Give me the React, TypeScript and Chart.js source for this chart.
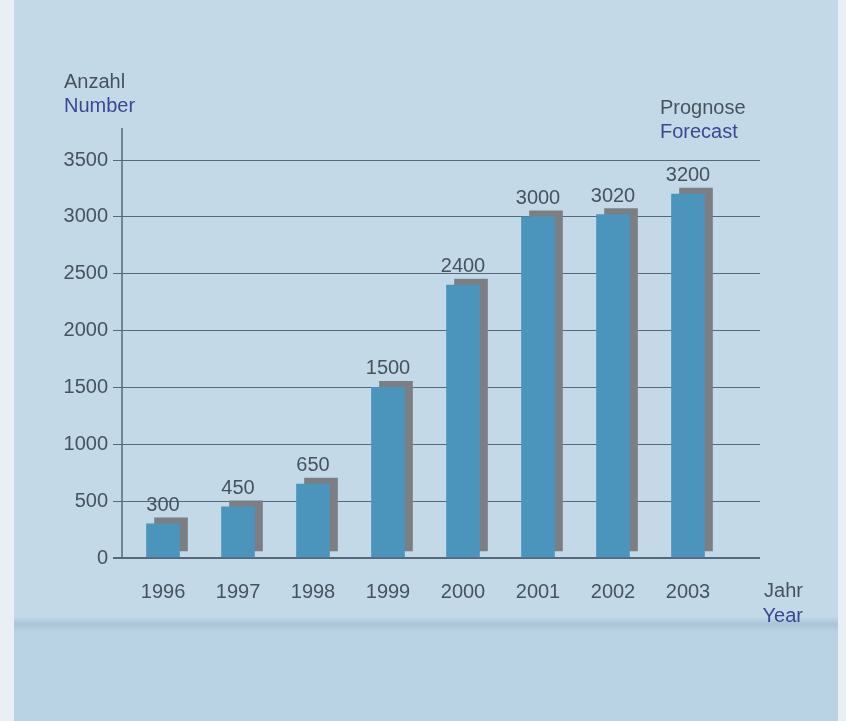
import React, { useEffect, useRef } from "react";
import { Chart, registerables } from "chart.js";

Chart.register(...registerables);

const years = ["1996", "1997", "1998", "1999", "2000", "2001", "2002", "2003"];
const values = [300, 450, 650, 1500, 2400, 3000, 3020, 3200];
const yMin = 0;
const yMax = 3500;
const yStep = 500;

const FONT = "'Liberation Sans', Arial, Helvetica, sans-serif";
const GRAY_TEXT = "#46535e";
const INDIGO = "#3a4893";
const BAR_BLUE = "#4b95bd";
const SHADOW = "#7b7f84";
const GRID = "#56697a";

const decorPlugin = {
  id: "decor",
  beforeDraw(chart: any) {
    const { ctx, width, height } = chart;
    ctx.save();
    ctx.fillStyle = "#c3d9e7";
    ctx.fillRect(0, 0, width, height);
    ctx.fillStyle = "#bad3e4";
    ctx.fillRect(0, 623, width, height - 623);
    const g = ctx.createLinearGradient(0, 616, 0, 632);
    g.addColorStop(0, "rgba(170,198,218,0)");
    g.addColorStop(0.5, "rgba(165,195,216,0.9)");
    g.addColorStop(1, "rgba(170,198,218,0)");
    ctx.fillStyle = g;
    ctx.fillRect(0, 616, width, 16);
    ctx.fillStyle = "#e9f0f5";
    ctx.fillRect(0, 0, 14, height);
    ctx.fillRect(838, 0, width - 838, height);
    ctx.restore();
  },
  beforeDatasetDraw(chart: any, args: any) {
    if (args.index === 0) {
      chart.ctx.save();
      chart.ctx.translate(8, -6);
    }
  },
  afterDatasetDraw(chart: any, args: any) {
    if (args.index === 0) chart.ctx.restore();
  },
  afterDatasetsDraw(chart: any) {
    const { ctx, chartArea } = chart;
    ctx.save();
    ctx.strokeStyle = GRID;
    ctx.lineWidth = 1.5;
    ctx.beginPath();
    ctx.moveTo(chartArea.left, 128);
    ctx.lineTo(chartArea.left, chartArea.bottom);
    ctx.stroke();
    const meta = chart.getDatasetMeta(1);
    ctx.font = `20px ${FONT}`;
    ctx.fillStyle = GRAY_TEXT;
    ctx.textAlign = "center";
    ctx.textBaseline = "alphabetic";
    meta.data.forEach((el: any, i: number) => {
      ctx.fillText(String(values[i]), el.x, el.y - 13);
    });
    ctx.textAlign = "left";
    ctx.fillStyle = GRAY_TEXT;
    ctx.fillText("Anzahl", 64, 88);
    ctx.fillStyle = INDIGO;
    ctx.fillText("Number", 64, 112);
    ctx.fillStyle = GRAY_TEXT;
    ctx.fillText("Prognose", 660, 114);
    ctx.fillStyle = INDIGO;
    ctx.fillText("Forecast", 660, 138);
    ctx.textAlign = "right";
    ctx.fillStyle = GRAY_TEXT;
    ctx.fillText("Jahr", 803, 597);
    ctx.fillStyle = INDIGO;
    ctx.fillText("Year", 803, 622);
    ctx.restore();
  },
};

export default function App() {
  const ref = useRef<HTMLCanvasElement | null>(null);
  useEffect(() => {
    if (!ref.current) return;
    const pts = values.map((v, i) => ({ x: i, y: v }));
    const chart = new Chart(ref.current, {
      type: "bar",
      data: {
        datasets: [
          {
            data: pts,
            backgroundColor: SHADOW,
            barThickness: 33,
            grouped: false,
            order: 2,
          } as any,
          {
            data: pts,
            backgroundColor: BAR_BLUE,
            barThickness: 33,
            grouped: false,
            order: 1,
          } as any,
        ],
      },
      options: {
        animation: false,
        responsive: false,
        devicePixelRatio: 1,
        layout: { padding: { left: 0, right: 86, top: 160, bottom: 123 } },
        plugins: { legend: { display: false }, tooltip: { enabled: false } },
        scales: {
          x: {
            type: "linear",
            offset: false,
            min: -0.5467,
            max: 7.96,
            grid: { display: false, drawTicks: false, offset: false },
            border: { display: false },
            afterFit: (s: any) => {
              s.height = 40;
            },
            ticks: {
              stepSize: 1,
              includeBounds: false,
              autoSkip: false,
              maxRotation: 0,
              padding: 22,
              color: GRAY_TEXT,
              font: { family: FONT, size: 20 },
              callback: (v: any) => years[Math.round(Number(v))] ?? "",
            },
          },
          y: {
            min: yMin,
            max: yMax,
            border: { display: false },
            afterFit: (s: any) => {
              s.width = 122;
            },
            grid: {
              color: GRID,
              lineWidth: (c: any) => (c.tick && c.tick.value === 0 ? 2 : 1),
              drawTicks: true,
              tickLength: 9,
            },
            ticks: {
              stepSize: yStep,
              padding: 5,
              color: GRAY_TEXT,
              font: { family: FONT, size: 20 },
              callback: (v: any) => String(v),
            },
          },
        },
      } as any,
      plugins: [decorPlugin],
    });
    return () => chart.destroy();
  }, []);
  return (
    <div style={{ position: "fixed", left: 0, top: 0, width: 846, height: 721 }}>
      <canvas ref={ref} width={846} height={721} style={{ display: "block" }} />
    </div>
  );
}
